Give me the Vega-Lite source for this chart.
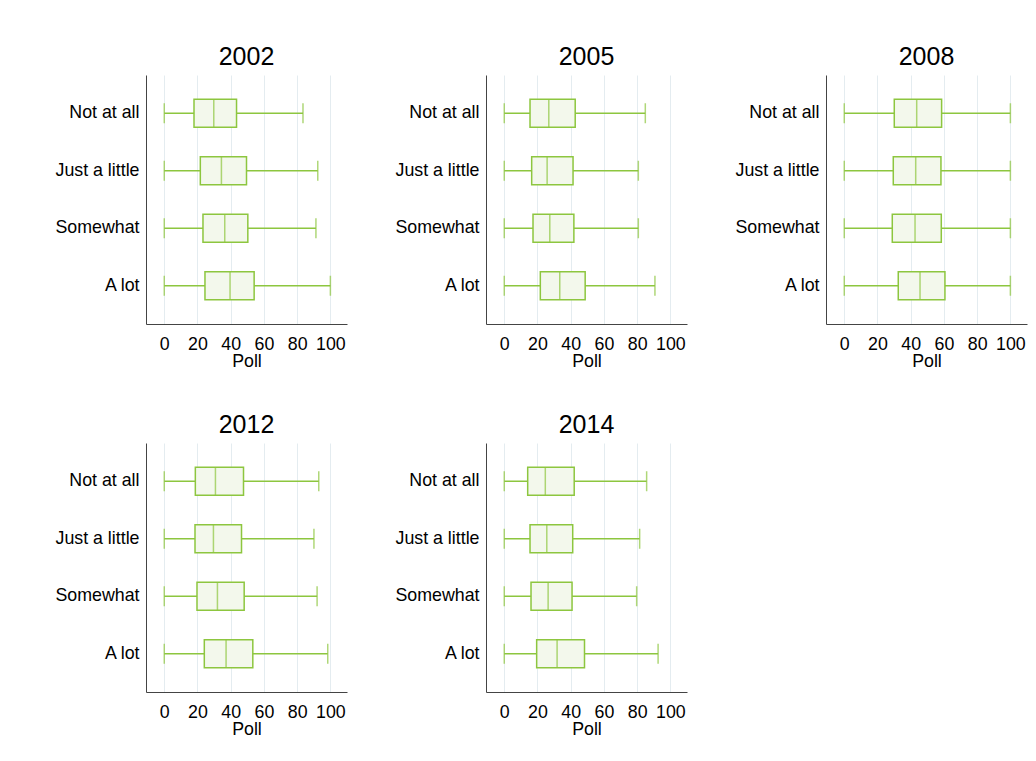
{
  "$schema": "https://vega.github.io/schema/vega-lite/v6.json",
  "background": "white",
  "padding": {"left": 54, "top": 44, "right": 5, "bottom": 5},
  "data": {
    "values": [
      {"year": "2002", "response": "Not at all", "min": 0, "q1": 17.9, "median": 29.8, "q3": 43.5, "max": 83.5},
      {"year": "2002", "response": "Just a little", "min": 0, "q1": 21.7, "median": 34.4, "q3": 49.5, "max": 92.4},
      {"year": "2002", "response": "Somewhat", "min": 0, "q1": 23.3, "median": 36.4, "q3": 50.3, "max": 91.3},
      {"year": "2002", "response": "A lot", "min": 0, "q1": 24.5, "median": 39.6, "q3": 54.1, "max": 100},
      {"year": "2005", "response": "Not at all", "min": 0, "q1": 15.5, "median": 26.8, "q3": 42.7, "max": 84.9},
      {"year": "2005", "response": "Just a little", "min": 0, "q1": 16.5, "median": 25.8, "q3": 41.4, "max": 80.7},
      {"year": "2005", "response": "Somewhat", "min": 0, "q1": 17.3, "median": 27.4, "q3": 41.9, "max": 80.7},
      {"year": "2005", "response": "A lot", "min": 0, "q1": 21.7, "median": 33.4, "q3": 48.7, "max": 90.7},
      {"year": "2008", "response": "Not at all", "min": 0, "q1": 30.1, "median": 43.6, "q3": 58.6, "max": 100},
      {"year": "2008", "response": "Just a little", "min": 0, "q1": 29.5, "median": 43.0, "q3": 58.2, "max": 100},
      {"year": "2008", "response": "Somewhat", "min": 0, "q1": 28.9, "median": 42.6, "q3": 58.4, "max": 100},
      {"year": "2008", "response": "A lot", "min": 0, "q1": 32.5, "median": 45.6, "q3": 60.6, "max": 100},
      {"year": "2012", "response": "Not at all", "min": 0, "q1": 18.7, "median": 30.8, "q3": 47.7, "max": 93.0},
      {"year": "2012", "response": "Just a little", "min": 0, "q1": 18.5, "median": 29.6, "q3": 46.5, "max": 90.1},
      {"year": "2012", "response": "Somewhat", "min": 0, "q1": 19.7, "median": 32.0, "q3": 48.1, "max": 92.0},
      {"year": "2012", "response": "A lot", "min": 0, "q1": 24.1, "median": 37.2, "q3": 53.3, "max": 98.4},
      {"year": "2014", "response": "Not at all", "min": 0, "q1": 14.1, "median": 24.7, "q3": 42.1, "max": 85.7},
      {"year": "2014", "response": "Just a little", "min": 0, "q1": 15.5, "median": 25.6, "q3": 41.2, "max": 81.5},
      {"year": "2014", "response": "Somewhat", "min": 0, "q1": 16.1, "median": 26.4, "q3": 40.8, "max": 79.7},
      {"year": "2014", "response": "A lot", "min": 0, "q1": 19.5, "median": 31.8, "q3": 48.3, "max": 92.6}
    ]
  },
  "facet": {"field": "year", "type": "ordinal", "title": null},
  "columns": 3,
  "spacing": {"row": 41, "column": 47},
  "resolve": {"axis": {"x": "independent", "y": "independent"}},
  "spec": {
    "width": 201,
    "height": 249,
    "encoding": {
      "y": {
        "field": "response",
        "type": "nominal",
        "sort": ["Not at all", "Just a little", "Somewhat", "A lot"],
        "scale": {"paddingInner": 0, "paddingOuter": 0.165},
        "axis": {"title": null}
      }
    },
    "layer": [
      {
        "mark": {"type": "rule", "color": "#8dc63f", "strokeWidth": 1.5},
        "encoding": {
          "x": {
            "field": "min",
            "type": "quantitative",
            "scale": {"domain": [-11, 110], "nice": false, "zero": false},
            "axis": {"title": "Poll"}
          },
          "x2": {"field": "max"}
        }
      },
      {
        "mark": {"type": "bar", "fill": "#f3f8ec", "stroke": "#8dc63f", "strokeWidth": 1.5, "size": 28},
        "encoding": {
          "x": {"field": "q1", "type": "quantitative", "axis": {"title": "Poll"}},
          "x2": {"field": "q3"}
        }
      },
      {
        "mark": {"type": "tick", "color": "#8dc63f", "thickness": 1.5, "size": 28},
        "encoding": {"x": {"field": "median", "type": "quantitative", "axis": {"title": "Poll"}}}
      },
      {
        "mark": {"type": "tick", "color": "#8dc63f", "thickness": 1.5, "size": 20},
        "encoding": {"x": {"field": "min", "type": "quantitative", "axis": {"title": "Poll"}}}
      },
      {
        "mark": {"type": "tick", "color": "#8dc63f", "thickness": 1.5, "size": 20},
        "encoding": {"x": {"field": "max", "type": "quantitative", "axis": {"title": "Poll"}}}
      }
    ]
  },
  "config": {
    "view": {"stroke": null},
    "font": "Liberation Sans",
    "header": {
      "labelFont": "Liberation Sans",
      "labelFontSize": 25,
      "labelColor": "#000000",
      "labelPadding": 5.5
    },
    "axis": {
      "labelFont": "Liberation Sans",
      "titleFont": "Liberation Sans",
      "labelFontSize": 17.8,
      "titleFontSize": 17.8,
      "titleFontWeight": "normal",
      "labelColor": "#000000",
      "titleColor": "#000000",
      "domainColor": "#444444",
      "ticks": false
    },
    "axisX": {
      "grid": true,
      "gridColor": "#e4ecf0",
      "values": [0, 20, 40, 60, 80, 100],
      "labelPadding": 11,
      "titlePadding": 0
    },
    "axisY": {"grid": false, "labelPadding": 7}
  }
}
